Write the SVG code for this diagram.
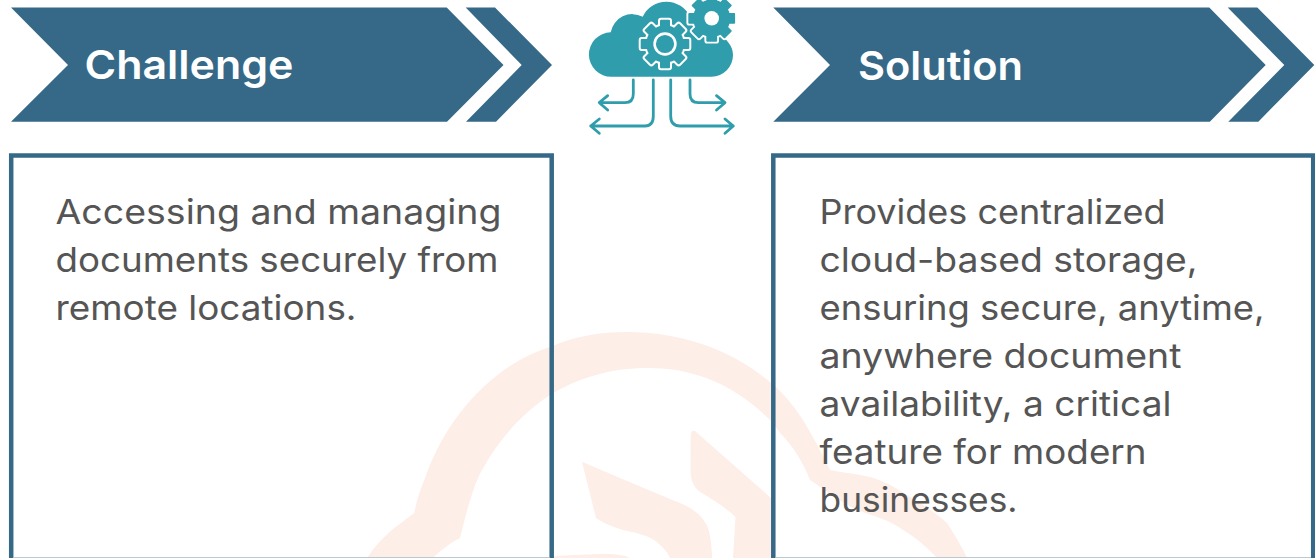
<svg xmlns="http://www.w3.org/2000/svg" xmlns:xlink="http://www.w3.org/1999/xlink" width="1315" height="558" viewBox="0 0 1315 558">
<style>
.banner{fill:#356987}
.box{fill:none;stroke:#356987;stroke-width:4.5}
.edge{fill:#b9c9d5}
.wm{fill:#fdeee8}
.head{font-family:Inter,"Liberation Sans",sans-serif;font-size:40px;font-weight:600;fill:#fff}
.body{font-family:Inter,"Liberation Sans",sans-serif;font-size:34px;font-weight:400;fill:#555}
.teal{fill:#2f9dac}
.arrow{fill:none;stroke:#2f9dac;stroke-width:2.8;stroke-linecap:round;stroke-linejoin:round}
</style>
<defs>
<g id="gearBig">
<circle r="18.8"/>
<rect x="-5" y="-24.3" width="10" height="48.6" rx="1"/>
<rect x="-5" y="-24.3" width="10" height="48.6" rx="1" transform="rotate(45)"/>
<rect x="-5" y="-24.3" width="10" height="48.6" rx="1" transform="rotate(90)"/>
<rect x="-5" y="-24.3" width="10" height="48.6" rx="1" transform="rotate(135)"/>
</g>
<g id="gearSmall">
<circle r="18.6"/>
<rect x="-5.4" y="-23.4" width="10.8" height="46.8" rx="1"/>
<rect x="-5.4" y="-23.4" width="10.8" height="46.8" rx="1" transform="rotate(45)"/>
<rect x="-5.4" y="-23.4" width="10.8" height="46.8" rx="1" transform="rotate(90)"/>
<rect x="-5.4" y="-23.4" width="10.8" height="46.8" rx="1" transform="rotate(135)"/>
</g>
</defs>
<rect width="1315" height="558" fill="#fff"/>
<g id="watermark" class="wm">
<path d="M367,558 C380,538 395,527 414.3,513 C417,498 421,488 425,478 C447,415 495,364 550,347 C575,336 600,332 627,332 C685,332 735,352 771,383 C785,394 795,408 803,420 C813,437 822,453 830,470 C845,473 858,474 870,477 C885,481 898,489 910,497 C927,507 938,515 947,523 C955,535 962,547 967,558 L937,558 C927,547 915,537 903,530 C890,520 873,516 857,510 C840,502 825,490 810,480 C803,462 793,446 780,433 C777,428 773,424 770,420 C735,385 695,368 648,368 C610,368 578,378 550,395 C515,418 492,450 478,478 C470,497 465,518 460,538 C450,543 441,550 432.7,558 Z"/>
<path d="M582,461.7 L620,478 L670,499 C680,503 688,506 693,510 C702,516 707,524 709,531 C711,540 712,550 712,558 L670,558 C667,552 664,548 660,545 C655,540 650,537 643,535 C634,532 625,531 616.7,528 C608,525 602,522 596,518 L586,478 Z"/>
<path d="M690.7,435 C690.7,431 693,430 695,431 L771,498 L772,558 L733,558 L735.5,517 C725,507 712,499 700,492 C693,486 690.5,480 690.5,470 Z"/>
<path d="M552,556.3 C570,555 590,554 607,554 C616,554 624,555 630,558 L552,558 Z"/>
</g>
<g id="challenge-banner">
<polygon class="banner" points="11,7.5 446.7,7.5 503.5,65 447,121.7 11,121.7 68,65"/>
<polygon class="banner" points="465.7,7.5 495,7.5 552,65 496,121.7 466,121.7 521.7,65"/>
<text class="head" x="84.5" y="79" textLength="209" lengthAdjust="spacingAndGlyphs">Challenge</text>
</g>
<g id="solution-banner">
<polygon class="banner" points="773.3,7.5 1209.3,7.5 1265.7,65 1209.8,121.7 773.3,121.7 830,65"/>
<polygon class="banner" points="1227.7,7.5 1257.3,7.5 1314.3,65 1258.3,121.7 1228.3,121.7 1284.3,65"/>
<text class="head" x="858" y="79.5" textLength="165" lengthAdjust="spacingAndGlyphs">Solution</text>
</g>
<g id="challenge-box">
<path class="box" d="M11.2,560 V155.4 H551.7 V560"/>
<rect class="edge" x="13.4" y="557" width="536" height="1"/>
<text class="body" x="55.5" y="223.7" textLength="446" lengthAdjust="spacingAndGlyphs">Accessing and managing</text>
<text class="body" x="55.5" y="271.7" textLength="443" lengthAdjust="spacingAndGlyphs">documents securely from</text>
<text class="body" x="55.5" y="319.7" textLength="301" lengthAdjust="spacingAndGlyphs">remote locations.</text>
</g>
<g id="solution-box">
<path class="box" d="M773.3,560 V155.4 H1313.2 V560"/>
<rect class="edge" x="775.6" y="557" width="535.4" height="1"/>
<text class="body" x="819.5" y="223.7" textLength="346" lengthAdjust="spacingAndGlyphs">Provides centralized</text>
<text class="body" x="819.5" y="271.7" textLength="378" lengthAdjust="spacingAndGlyphs">cloud-based storage,</text>
<text class="body" x="819.5" y="319.7" textLength="445" lengthAdjust="spacingAndGlyphs">ensuring secure, anytime,</text>
<text class="body" x="819.5" y="367.7" textLength="362" lengthAdjust="spacingAndGlyphs">anywhere document</text>
<text class="body" x="819.5" y="415.7" textLength="352" lengthAdjust="spacingAndGlyphs">availability, a critical</text>
<text class="body" x="819.5" y="463.7" textLength="327" lengthAdjust="spacingAndGlyphs">feature for modern</text>
<text class="body" x="819.5" y="511.7" textLength="198" lengthAdjust="spacingAndGlyphs">businesses.</text>
</g>
<g id="cloud-icon">
<path class="teal" d="M611.5,76.7 A22.2,22.2 0 0 1 610.7,32.3 A22,22 0 0 1 642.7,16.7 A26,26 0 0 1 690,17 L720,34 C727,40 733,46 733,55 A21.7,21.7 0 0 1 711.7,76.7 Z"/>
<use xlink:href="#gearSmall" href="#gearSmall" x="711.7" y="18.3" fill="#fff" stroke="#fff" stroke-width="3.8"/>
<use xlink:href="#gearSmall" href="#gearSmall" x="711.7" y="18.3" fill="#2f9dac"/>
<circle cx="711.7" cy="18.3" r="7.3" fill="#fff"/>
<use xlink:href="#gearBig" href="#gearBig" x="665" y="44" fill="#fff" stroke="#fff" stroke-width="4"/>
<use xlink:href="#gearBig" href="#gearBig" x="665" y="44" fill="#2f9dac"/>
<circle cx="665" cy="44" r="10.4" fill="#2f9dac" stroke="#fff" stroke-width="2.6"/>
</g>
<g id="connectors">
<path class="arrow" d="M633.3,80 V94 Q633.3,102.7 625,102.7 H599.3 M607.7,95.7 L599.3,102.7 L607.7,110"/>
<path class="arrow" d="M653.3,80 V116 Q653.3,126 645,126 H590.7 M599.3,119 L590.7,126 L599.3,133.3"/>
<path class="arrow" d="M670.7,80 V116 Q670.7,126 680,126 H733.3 M725,119 L733.3,126 L725,133.3"/>
<path class="arrow" d="M690,80 V94 Q690,102.7 698.3,102.7 H725 M716.5,95.7 L725,102.7 L716.5,110"/>
</g>
</svg>
